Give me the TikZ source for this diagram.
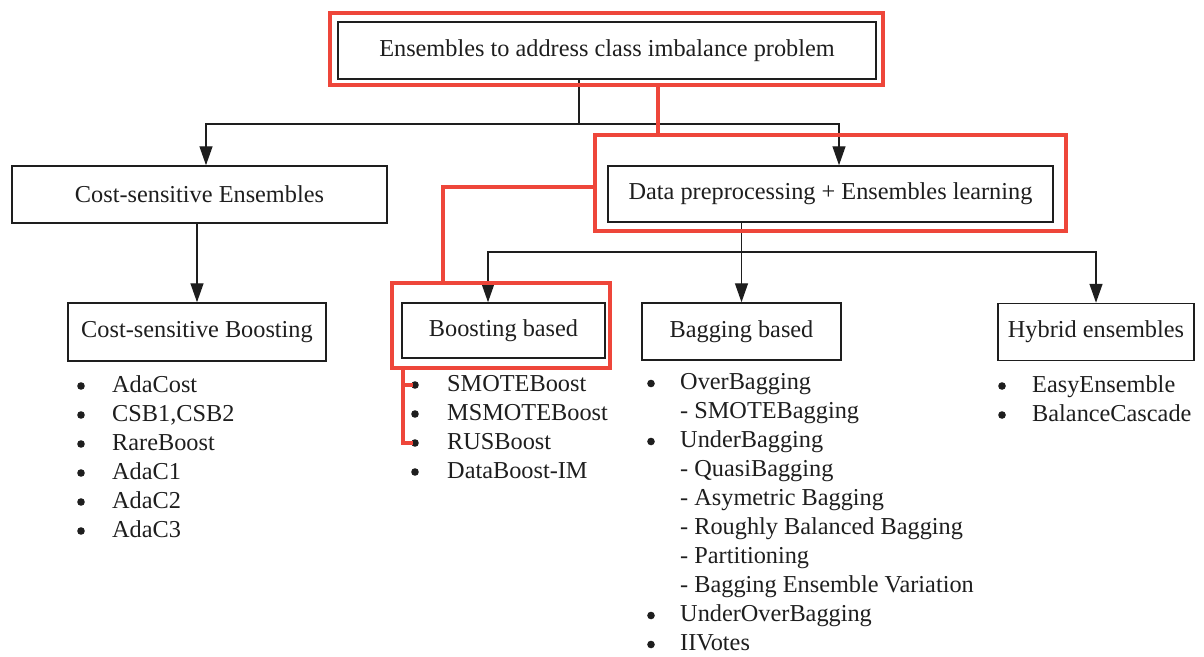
\documentclass[tikz,border=0pt]{standalone}
\usepackage{fontspec}
\setmainfont{Liberation Serif}
\usetikzlibrary{arrows.meta}
\definecolor{hl}{RGB}{238,70,58}
\definecolor{ink}{RGB}{30,30,30}
\begin{document}
\begin{tikzpicture}[x=1pt,y=-1pt,
  txt/.style={font=\fontsize{24.3}{29}\selectfont, text=ink},
  box/.style={txt, draw=ink, line width=1.5pt, inner sep=0pt},
  hlbox/.style={draw=hl, line width=4.5pt, inner sep=0pt},
  link/.style={draw=ink, line width=1.4pt},
  arr/.style={link, -{Triangle[length=19pt,width=13pt]}},
  hlline/.style={draw=hl, line width=4.5pt},
  list/.style={txt, anchor=base west, inner sep=0pt},
  dot/.style={fill=ink}]
\useasboundingbox (0,0) rectangle (1204,656);

% boxes
\node[box, minimum width=538pt, minimum height=57pt] (top) at (607,50.5)
  {Ensembles to address class imbalance problem};
\node[box, minimum width=375pt, minimum height=57pt] (cse) at (199.5,194.5)
  {Cost-sensitive Ensembles};
\node[box, minimum width=445pt, minimum height=56pt] (dpe) at (830.5,194)
  {Data preprocessing + Ensembles learning};
\node[box, minimum width=258pt, minimum height=58pt] (csb) at (197,332)
  {Cost-sensitive Boosting};
\node[box, minimum width=203pt, minimum height=55pt] (bb) at (503.5,330.5)
  {Boosting based};
\node[box, minimum width=199pt, minimum height=57pt] (bag) at (741.5,331.5)
  {Bagging based};
\node[box, minimum width=196pt, minimum height=57pt] (hyb) at (1096,332)
  {Hybrid ensembles};

% item lists
\node[list] (cslist) at (112,392) {\begin{tabular}[t]{@{}l@{}}
  AdaCost\\ CSB1,CSB2\\ RareBoost\\ AdaC1\\ AdaC2\\ AdaC3
\end{tabular}};
\node[list] (bblist) at (447,391) {\begin{tabular}[t]{@{}l@{}}
  SMOTEBoost\\ MSMOTEBoost\\ RUSBoost\\ DataBoost-IM
\end{tabular}};
\node[list] (baglist) at (680,389.5) {\begin{tabular}[t]{@{}l@{}}
  OverBagging\\ - SMOTEBagging\\ UnderBagging\\
  - QuasiBagging\\ - Asymetric Bagging\\ - Roughly Balanced Bagging\\
  - Partitioning\\ - Bagging Ensemble Variation\\
  UnderOverBagging\\ IIVotes
\end{tabular}};
\node[list] (hyblist) at (1032,392) {\begin{tabular}[t]{@{}l@{}}
  EasyEnsemble\\ BalanceCascade
\end{tabular}};

% list bullets
\foreach \k in {0,...,5} \fill[dot] (81,386+29*\k) circle (3.8);
\foreach \k in {0,...,3} \fill[dot] (415,385+29*\k) circle (3.8);
\foreach \k in {0,2,8,9} \fill[dot] (651,383.5+29*\k) circle (3.8);
\foreach \k in {0,1} \fill[dot] (1002,386+29*\k) circle (3.8);

% tree connectors
\coordinate (j1) at (579,124);
\coordinate (j2) at (741.5,252);
\draw[link] (top.south -| j1) -- (j1);
\draw[arr] (j1) -| ([xshift=6.5pt]cse.north);
\draw[arr] (j1) -| ([xshift=8.5pt]dpe.north);
\draw[arr] (cse.south -| csb.north) -- (csb.north);
\draw[arr] (dpe.south -| bag.north) -- (bag.north);
\draw[arr] (j2) -| ([xshift=-15.5pt]bb.north);
\draw[arr] (j2) -| (hyb.north);

% highlighted path
\node[hlbox, minimum width=553pt, minimum height=72pt] (topR) at (606.5,49) {};
\node[hlbox, minimum width=471pt, minimum height=96pt] (dpeR) at (830.5,183) {};
\node[hlbox, minimum width=218pt, minimum height=85pt] (bbR) at (501,325.5) {};
\coordinate (rt) at (658,0);
\coordinate (rc) at (443,187);
\coordinate (rv) at (403,443);
\coordinate (b1) at (413,385);
\coordinate (b3) at (413,443);
\draw[hlline] (topR.south -| rt) -- (dpeR.north -| rt);
\draw[hlline] (dpeR.west |- rc) -- (rc) -- (bbR.north -| rc);
\draw[hlline] (bbR.south -| rv) -- (rv) -- (b3);
\draw[hlline] (b1 -| rv) -- (b1);
\end{tikzpicture}
\end{document}
